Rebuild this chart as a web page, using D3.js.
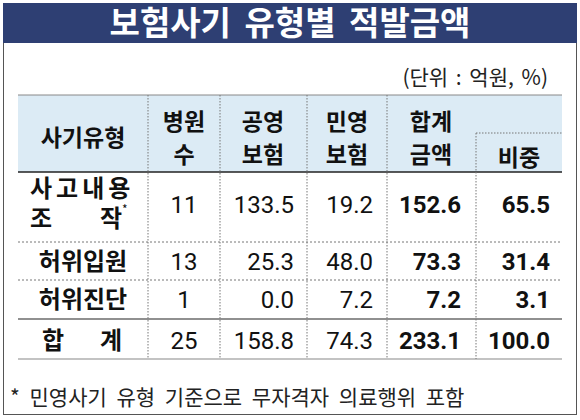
<!DOCTYPE html><html><head><meta charset="utf-8">
<script src="https://d3js.org/d3.v7.min.js"></script>
<style>body{margin:0;background:#fff}</style></head><body><svg id="c" width="580" height="420"></svg>
<script>
const title="보험사기 유형별 적발금액";
const unit="(단위 : 억원, %)";
const types=[["사고내용","조  작"],["허위입원"],["허위진단"],["합   계"]];
const hospitals=[11,13,1,25];
const publicIns=[133.5,25.3,0.0,158.8];
const privateIns=[19.2,48.0,7.2,74.3];
const totals=[152.6,73.3,7.2,233.1];
const shares=[65.5,31.4,3.1,100.0];
const footnote="* 민영사기 유형 기준으로 무자격자 의료행위 포함";

const svg=d3.select("#c");
const F="'Noto Sans CJK KR','Noto Sans',sans-serif";
const N="'Liberation Sans Narrow','Roboto',sans-serif";
svg.append("rect").attr("x",3.5).attr("y",3.5).attr("width",573).attr("height",411).attr("fill","#fff").attr("stroke","#555");
svg.append("rect").attr("x",3).attr("y",3).attr("width",574).attr("height",40).attr("fill","#2e3f73");
svg.append("text").attr("x",290).attr("y",35).attr("text-anchor","middle").attr("fill","#fff").attr("font-family",F).attr("font-weight","bold").attr("font-size",33).attr("word-spacing",6).text(title);
svg.append("text").attr("x",548).attr("y",85).attr("text-anchor","end").attr("font-family",F).attr("font-size",21).attr("fill","#222").attr("word-spacing",3).text(unit);

const cols=[18,148,220,307,387,476,562];
svg.append("rect").attr("x",18).attr("y",95).attr("width",544).attr("height",77).attr("fill","#dcebf5");
svg.append("line").attr("x1",18).attr("x2",562).attr("y1",95).attr("y2",95).attr("stroke","#888");
svg.append("line").attr("x1",18).attr("x2",562).attr("y1",172).attr("y2",172).attr("stroke","#222").attr("stroke-width",1.3);
svg.append("line").attr("x1",476).attr("x2",562).attr("y1",133).attr("y2",133).attr("stroke","#777").attr("stroke-dasharray","1.5,1.5");
[242,280].forEach(y=>svg.append("line").attr("x1",18).attr("x2",562).attr("y1",y).attr("y2",y).attr("stroke","#777").attr("stroke-dasharray","2,2"));
svg.append("line").attr("x1",18).attr("x2",562).attr("y1",319).attr("y2",319).attr("stroke","#222").attr("stroke-width",1.2);
svg.append("line").attr("x1",18).attr("x2",562).attr("y1",359).attr("y2",359).attr("stroke","#888").attr("stroke-width",1.2);
cols.slice(1,6).forEach((x,i)=>svg.append("line").attr("x1",x).attr("x2",x).attr("y1",i==4?133:95).attr("y2",359).attr("stroke","#777").attr("stroke-dasharray","1.5,1.5"));

function t(x,y,s,o={}){return svg.append("text").attr("x",x).attr("y",y).attr("font-family",o.f||F).attr("font-size",o.fs||23).attr("font-weight",o.b?"bold":"normal").attr("text-anchor",o.a||"middle").attr("fill","#111").text(s);}
t(83,146,"사기유형",{b:1});
t(184,130,"병원",{b:1});t(184,163,"수",{b:1});
t(263,130,"공영",{b:1});t(263,163,"보험",{b:1});
t(347,130,"민영",{b:1});t(347,163,"보험",{b:1});
t(431,130,"합계",{b:1});t(431,163,"금액",{b:1});
t(519,166,"비중",{b:1});

const ys=[213,270,308,349];
types.forEach((lab,i)=>{
  if(lab.length==2){
    t(30,197,"사고내용",{b:1,a:"start",fs:24}).attr("letter-spacing",4);
    t(30,227,"조",{b:1,a:"start",fs:24});t(122,227,"작",{b:1,a:"end",fs:24});
    t(122,214,"*",{a:"start",fs:12});
  } else if(i==3){ t(42,ys[i],"합",{b:1,a:"start",fs:24});t(122,ys[i],"계",{b:1,a:"end",fs:24}); }
  else t(83,ys[i],lab[0],{b:1,fs:24});
  const nf={f:N,fs:24};
  t(184,ys[i],hospitals[i],nf);
  t(294,ys[i],publicIns[i].toFixed(1),{...nf,a:"end"});
  t(373,ys[i],privateIns[i].toFixed(1),{...nf,a:"end"});
  t(461,ys[i],totals[i].toFixed(1),{...nf,a:"end",b:1});
  t(550,ys[i],shares[i].toFixed(1),{...nf,a:"end",b:1});
});
t(10,405,footnote,{a:"start",fs:21}).attr("fill","#222").attr("word-spacing",5);
</script></body></html>
